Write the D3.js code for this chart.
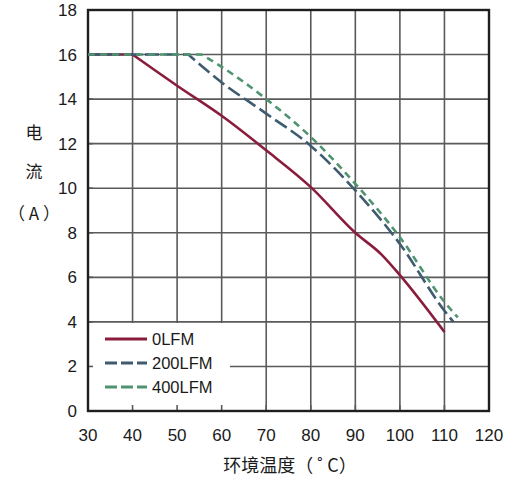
<!DOCTYPE html>
<html>
<head>
<meta charset="utf-8">
<script src="https://cdn.jsdelivr.net/npm/d3@7"></script>
<style>
  body { margin: 0; background: #fff; }
  text { font-family: "Liberation Sans", Arial, sans-serif; }
</style>
</head>
<body>
<div id="chart"></div>
<script>
// data
var xTicks = [30, 40, 50, 60, 70, 80, 90, 100, 110, 120];
var yTicks = [0, 2, 4, 6, 8, 10, 12, 14, 16, 18];
var seriesNames = ["0LFM", "200LFM", "400LFM"];
var temp0 = [30, 40, 50, 60, 70, 80, 90, 96, 100, 110];
var amp0 = [16, 16, 14.6, 13.25, 11.7, 10.05, 8.0, 7.0, 6.1, 3.55];
var temp200 = [30, 52.5, 60, 70, 80, 90, 100, 110, 112];
var amp200 = [16, 16, 14.75, 13.35, 11.9, 9.9, 7.5, 4.5, 4.0];
var temp400 = [30, 55.5, 60, 70, 80, 90, 100, 110, 113];
var amp400 = [16, 16, 15.45, 14.0, 12.3, 10.2, 7.8, 4.9, 4.2];

var colors = ["#8a1c3c", "#3e5b6f", "#4f9470"];
var dashes = [null, "14,5", "7,5"];

const margin = {top: 10, right: 26, bottom: 66, left: 88},
  width = 515,
  height = 477;
var w = width - margin.left - margin.right,
    h = height - margin.top - margin.bottom;

var svg = d3.select("#chart").append("svg")
  .attr("width", width).attr("height", height);
var g = svg.append("g").attr("transform", `translate(${margin.left},${margin.top})`);

var x_scale = d3.scaleLinear().domain([30, 120]).range([0, w]);
var y_scale = d3.scaleLinear().domain([0, 18]).range([h, 0]);

// grid
g.append("g").selectAll("line").data(xTicks.slice(1, -1)).join("line")
  .attr("x1", d => x_scale(d)).attr("x2", d => x_scale(d))
  .attr("y1", 0).attr("y2", h)
  .attr("stroke", "#5a5a5a").attr("stroke-width", 1.6);
g.append("g").selectAll("line").data(yTicks.slice(1, -1)).join("line")
  .attr("y1", d => y_scale(d)).attr("y2", d => y_scale(d))
  .attr("x1", 0).attr("x2", w)
  .attr("stroke", "#5a5a5a").attr("stroke-width", 1.6);

// legend background hides grid
g.append("rect").attr("x", 0).attr("y", y_scale(3.95))
  .attr("width", 142).attr("height", h - y_scale(3.95))
  .attr("fill", "#fff");

// small inner ticks
g.append("g").selectAll("line").data(xTicks.slice(1, -1)).join("line")
  .attr("x1", d => x_scale(d)).attr("x2", d => x_scale(d))
  .attr("y1", h).attr("y2", h - 6)
  .attr("stroke", "#5a5a5a").attr("stroke-width", 1.6);
g.append("g").selectAll("line").data(yTicks.slice(1, -1)).join("line")
  .attr("y1", d => y_scale(d)).attr("y2", d => y_scale(d))
  .attr("x1", 0).attr("x2", 5)
  .attr("stroke", "#5a5a5a").attr("stroke-width", 1.6);

// frame
g.append("rect").attr("width", w).attr("height", h)
  .attr("fill", "none").attr("stroke", "#1e1e1e").attr("stroke-width", 2.4);

// tick labels
g.append("g").selectAll("text").data(yTicks).join("text")
  .attr("x", -11).attr("y", d => y_scale(d) + 6)
  .attr("text-anchor", "end").style("font-size", "17px").attr("fill", "#1a1a1a")
  .text(d => d);
g.append("g").selectAll("text").data(xTicks).join("text")
  .attr("x", d => x_scale(d)).attr("y", h + 30)
  .attr("text-anchor", "middle").style("font-size", "17px").attr("fill", "#1a1a1a")
  .text(d => d);

// curves: straight flat part, then smooth derating part
var curve = d3.line().x(d => x_scale(d[0])).y(d => y_scale(d[1])).curve(d3.curveMonotoneX);
var series = [d3.zip(temp0, amp0), d3.zip(temp200, amp200), d3.zip(temp400, amp400)];
series.forEach(function (s, i) {
  var p0 = s[0];
  var d = "M" + x_scale(p0[0]) + "," + y_scale(p0[1]) + "L" + curve(s.slice(1)).slice(1);
  g.append("path")
    .attr("d", d)
    .attr("fill", "none")
    .attr("stroke", colors[i])
    .attr("stroke-width", 2.6)
    .attr("stroke-dasharray", dashes[i]);
});

// legend
var leg = g.append("g").attr("transform", "translate(17," + (h - 72) + ")");
seriesNames.forEach(function (name, i) {
  leg.append("line").attr("x1", 0).attr("x2", 42)
    .attr("y1", i * 24).attr("y2", i * 24)
    .attr("stroke", colors[i]).attr("stroke-width", 2.8)
    .attr("stroke-dasharray", dashes[i] ? "12,4" : null);
  leg.append("text").attr("x", 47).attr("y", i * 24 + 6)
    .style("font-size", "16.5px").attr("fill", "#1a1a1a").text(name);
});

// axis titles
svg.append("text").attr("x", 290).attr("y", 472)
  .attr("text-anchor", "middle")
  .style("font-family", "'Noto Sans CJK SC', sans-serif").style("font-size", "18px")
  .attr("fill", "#1a1a1a").text("环境温度（ ˚  C）");
var yt = ["电", "流", "（ A ）"];
var ytY = [139, 178, 220];
yt.forEach(function (t, i) {
  svg.append("text").attr("x", 34).attr("y", ytY[i]).attr("text-anchor", "middle")
    .style("font-family", "'Noto Sans CJK SC', sans-serif").style("font-size", "17px")
    .attr("fill", "#1a1a1a").text(t);
});
</script>
</body>
</html>
